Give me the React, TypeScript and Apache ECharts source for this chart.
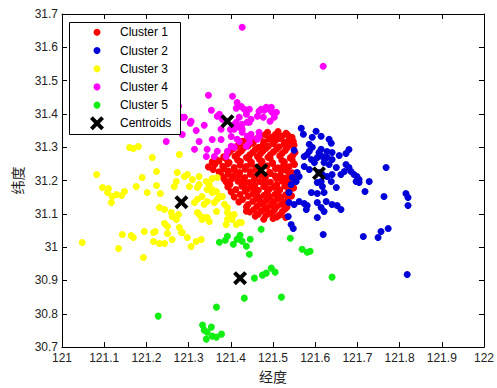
import React, { useEffect, useRef } from "react";
import * as echarts from "echarts";

type Pt = [number, number];

const seriesNames = ["Cluster 1", "Cluster 2", "Cluster 3", "Cluster 4", "Cluster 5"];
const seriesColors = ["#ff0000", "#0000d8", "#ffff00", "#ff00ff", "#11ee11"];
const centroidName = "Centroids";

const cluster1: Pt[] = [
  [121.487, 31.345], [121.512, 31.347], [121.531, 31.342],
  [121.47, 31.333], [121.498, 31.331], [121.522, 31.334], [121.545, 31.33],
  [121.428, 31.318], [121.452, 31.32], [121.478, 31.316], [121.505, 31.319], [121.527, 31.315], [121.548, 31.318],
  [121.413, 31.302], [121.441, 31.304], [121.466, 31.3], [121.489, 31.303], [121.514, 31.301], [121.538, 31.305],
  [121.398, 31.287], [121.425, 31.289], [121.452, 31.285], [121.476, 31.288], [121.501, 31.286], [121.529, 31.29], [121.552, 31.284],
  [121.383, 31.271], [121.41, 31.273], [121.437, 31.269], [121.463, 31.272], [121.488, 31.27], [121.516, 31.274], [121.541, 31.268],
  [121.356, 31.256], [121.372, 31.259], [121.396, 31.254], [121.423, 31.257], [121.449, 31.255], [121.474, 31.258], [121.499, 31.253], [121.527, 31.256], [121.549, 31.252],
  [121.347, 31.241], [121.381, 31.243], [121.408, 31.239], [121.436, 31.242], [121.459, 31.24], [121.486, 31.244], [121.512, 31.238], [121.538, 31.241],
  [121.372, 31.226], [121.395, 31.228], [121.421, 31.224], [121.447, 31.227], [121.492, 31.225], [121.519, 31.229], [121.546, 31.223],
  [121.381, 31.211], [121.407, 31.213], [121.433, 31.209], [121.458, 31.212], [121.482, 31.21], [121.505, 31.214], [121.531, 31.208], [121.553, 31.211],
  [121.389, 31.196], [121.417, 31.198], [121.444, 31.194], [121.469, 31.197], [121.494, 31.195], [121.521, 31.199], [121.542, 31.193],
  [121.393, 31.181], [121.426, 31.183], [121.452, 31.179], [121.478, 31.182], [121.503, 31.18], [121.528, 31.184], [121.549, 31.178],
  [121.401, 31.166], [121.434, 31.168], [121.461, 31.164], [121.487, 31.167], [121.512, 31.165], [121.537, 31.169],
  [121.408, 31.151], [121.441, 31.153], [121.468, 31.149], [121.493, 31.152], [121.519, 31.15], [121.544, 31.154],
  [121.419, 31.136], [121.452, 31.138], [121.477, 31.134], [121.501, 31.137], [121.526, 31.135],
  [121.437, 31.121], [121.462, 31.123], [121.486, 31.119], [121.509, 31.122], [121.533, 31.12],
  [121.437, 31.108], [121.445, 31.106], [121.471, 31.108], [121.497, 31.104], [121.522, 31.107],
  [121.458, 31.093], [121.483, 31.095], [121.509, 31.091], [121.53, 31.089],
  [121.478, 31.084], [121.5, 31.086],
  [121.482, 31.338], [121.506, 31.339], [121.535, 31.337],
  [121.44, 31.325], [121.463, 31.327], [121.49, 31.324], [121.515, 31.326], [121.538, 31.323],
  [121.42, 31.31], [121.453, 31.312], [121.477, 31.308], [121.501, 31.311], [121.526, 31.309], [121.55, 31.307],
  [121.405, 31.295], [121.43, 31.297], [121.458, 31.293], [121.483, 31.296], [121.508, 31.294], [121.533, 31.298],
  [121.392, 31.279], [121.418, 31.281], [121.445, 31.277], [121.47, 31.28], [121.494, 31.278], [121.522, 31.282], [121.547, 31.276],
  [121.365, 31.264], [121.388, 31.266], [121.416, 31.262], [121.443, 31.265], [121.468, 31.263], [121.493, 31.267], [121.521, 31.261], [121.545, 31.264],
  [121.362, 31.248], [121.393, 31.25], [121.422, 31.246], [121.447, 31.249], [121.472, 31.247], [121.499, 31.251], [121.525, 31.245], [121.551, 31.248],
  [121.358, 31.233], [121.384, 31.235], [121.409, 31.231], [121.434, 31.234], [121.46, 31.232], [121.506, 31.236], [121.532, 31.23],
  [121.376, 31.218], [121.394, 31.22], [121.42, 31.216], [121.446, 31.219], [121.47, 31.217], [121.494, 31.221], [121.518, 31.215], [121.541, 31.218],
  [121.385, 31.203], [121.402, 31.205], [121.43, 31.201], [121.456, 31.204], [121.481, 31.202], [121.508, 31.206], [121.533, 31.2], [121.552, 31.203],
  [121.398, 31.188], [121.431, 31.19], [121.457, 31.186], [121.482, 31.189], [121.509, 31.187], [121.535, 31.191],
  [121.412, 31.173], [121.44, 31.175], [121.465, 31.171], [121.491, 31.174], [121.516, 31.172], [121.543, 31.176],
  [121.422, 31.158], [121.452, 31.16], [121.479, 31.156], [121.505, 31.159], [121.53, 31.157],
  [121.428, 31.143], [121.461, 31.145], [121.485, 31.141], [121.51, 31.144], [121.535, 31.142],
  [121.441, 31.128], [121.47, 31.13], [121.495, 31.126], [121.52, 31.129],
  [121.455, 31.113], [121.48, 31.115], [121.503, 31.111], [121.528, 31.114],
  [121.465, 31.099], [121.49, 31.101], [121.516, 31.097],
];

const cluster2: Pt[] = [
  [121.567, 31.357], [121.572, 31.339], [121.602, 31.348], [121.593, 31.33], [121.614, 31.333],
  [121.633, 31.324], [121.638, 31.312], [121.586, 31.309], [121.593, 31.3], [121.55, 31.291],
  [121.574, 31.272], [121.581, 31.278], [121.591, 31.263], [121.609, 31.284], [121.617, 31.272],
  [121.628, 31.287], [121.64, 31.284], [121.657, 31.275], [121.673, 31.281], [121.68, 31.293],
  [121.574, 31.242], [121.586, 31.233], [121.598, 31.254], [121.621, 31.254], [121.633, 31.248],
  [121.65, 31.239], [121.673, 31.248], [121.68, 31.239], [121.685, 31.227], [121.692, 31.218],
  [121.697, 31.197], [121.704, 31.203], [121.728, 31.197], [121.768, 31.239], [121.557, 31.224],
  [121.546, 31.209], [121.543, 31.188], [121.555, 31.197], [121.562, 31.212], [121.617, 31.218],
  [121.628, 31.212], [121.64, 31.218], [121.638, 31.197], [121.65, 31.179], [121.617, 31.182],
  [121.605, 31.194], [121.591, 31.164], [121.605, 31.161], [121.621, 31.164], [121.538, 31.164],
  [121.718, 31.167], [121.763, 31.152], [121.815, 31.161], [121.82, 31.149], [121.82, 31.125],
  [121.605, 31.269], [121.628, 31.269], [121.64, 31.263], [121.586, 31.288], [121.614, 31.294],
  [121.609, 31.224], [121.661, 31.218], [121.669, 31.227], [121.699, 31.212], [121.704, 31.194],
  [121.614, 31.197], [121.538, 31.134], [121.55, 31.128], [121.562, 31.137], [121.574, 31.131],
  [121.581, 31.125], [121.605, 31.134], [121.614, 31.119], [121.621, 31.107], [121.626, 31.137],
  [121.64, 31.128], [121.652, 31.125], [121.661, 31.113], [121.536, 31.092], [121.605, 31.089],
  [121.543, 31.068], [121.548, 31.056], [121.619, 31.038], [121.714, 31.032], [121.749, 31.029],
  [121.756, 31.047], [121.773, 31.056], [121.818, 30.918], [121.579, 31.113],
];

const cluster3: Pt[] = [
  [121.048, 31.014], [121.082, 31.218], [121.096, 31.179], [121.11, 31.176], [121.108, 31.164],
  [121.119, 31.152], [121.129, 31.158], [121.141, 31.155], [121.148, 31.167], [121.117, 31.134],
  [121.16, 31.299], [121.169, 31.296], [121.181, 31.302], [121.214, 31.269], [121.278, 31.278],
  [121.176, 31.182], [121.19, 31.209], [121.224, 31.227], [121.224, 31.185], [121.202, 31.164],
  [121.233, 31.161], [121.271, 31.197], [121.266, 31.182], [121.273, 31.224], [121.29, 31.212],
  [121.231, 31.119], [121.243, 31.113], [121.261, 31.092], [121.271, 31.083], [121.276, 31.098],
  [121.243, 31.071], [121.25, 31.062], [121.278, 31.059], [121.143, 31.038], [121.164, 31.035],
  [121.169, 31.029], [121.195, 31.047], [121.217, 31.044], [121.221, 31.047], [121.217, 31.017],
  [121.231, 31.011], [121.243, 31.011], [121.25, 31.041], [121.261, 31.023], [121.285, 31.044],
  [121.297, 31.029], [121.134, 30.996], [121.193, 30.969], [121.306, 31.002], [121.318, 31.017],
  [121.33, 31.023], [121.325, 31.098], [121.332, 31.083], [121.344, 31.089], [121.314, 31.134],
  [121.321, 31.144], [121.332, 31.152], [121.344, 31.137], [121.361, 31.134], [121.373, 31.152],
  [121.366, 31.167], [121.392, 31.119], [121.396, 31.098], [121.403, 31.083], [121.42, 31.074],
  [121.297, 31.218], [121.309, 31.203], [121.325, 31.212], [121.342, 31.197], [121.356, 31.206],
  [121.368, 31.209], [121.325, 31.188], [121.344, 31.173], [121.356, 31.173], [121.302, 31.182],
  [121.321, 31.179], [121.349, 31.188], [121.356, 31.164], [121.337, 31.129], [121.368, 31.144],
  [121.38, 31.152], [121.385, 31.129], [121.366, 31.107], [121.321, 31.104], [121.337, 31.089],
  [121.349, 31.077], [121.392, 31.104], [121.408, 31.098], [121.392, 31.083], [121.413, 31.068],
  [121.425, 31.074], [121.389, 31.068], [121.259, 31.104], [121.283, 31.044],
];

const cluster4: Pt[] = [
  [121.427, 31.66], [121.619, 31.543], [121.347, 31.456], [121.404, 31.453], [121.276, 31.423],
  [121.354, 31.411], [121.285, 31.39], [121.304, 31.372], [121.337, 31.366], [121.373, 31.399],
  [121.38, 31.384], [121.415, 31.434], [121.425, 31.422], [121.432, 31.414], [121.437, 31.399],
  [121.42, 31.39], [121.439, 31.375], [121.247, 31.317], [121.285, 31.338], [121.325, 31.317],
  [121.356, 31.323], [121.377, 31.323], [121.401, 31.332], [121.344, 31.294], [121.368, 31.288],
  [121.401, 31.303], [121.42, 31.317], [121.437, 31.303], [121.318, 31.35], [121.399, 31.353],
  [121.408, 31.368], [121.342, 31.272], [121.361, 31.272], [121.389, 31.272], [121.448, 31.384],
  [121.467, 31.408], [121.479, 31.411], [121.491, 31.414], [121.498, 31.405], [121.503, 31.39],
  [121.493, 31.378], [121.477, 31.39], [121.463, 31.393], [121.368, 31.393], [121.413, 31.375],
  [121.427, 31.369], [121.444, 31.375], [121.306, 31.378], [121.29, 31.39], [121.444, 31.414],
  [121.472, 31.414], [121.484, 31.42], [121.496, 31.42], [121.508, 31.405], [121.427, 31.354],
  [121.448, 31.339], [121.439, 31.333], [121.467, 31.333], [121.444, 31.315], [121.314, 31.294],
  [121.408, 31.354], [121.42, 31.36], [121.427, 31.345], [121.415, 31.324], [121.408, 31.3],
  [121.392, 31.288], [121.467, 31.345], [121.463, 31.324], [121.448, 31.33], [121.377, 31.354],
  [121.413, 31.417],
];

const cluster5: Pt[] = [
  [121.228, 30.793], [121.333, 30.766], [121.354, 30.76], [121.344, 30.745], [121.342, 30.724],
  [121.356, 30.733], [121.366, 30.73], [121.378, 30.739], [121.337, 30.751], [121.366, 30.82],
  [121.432, 30.847], [121.52, 30.85], [121.373, 31.015], [121.392, 31.033], [121.406, 31.009],
  [121.422, 31.036], [121.427, 31.018], [121.437, 31.003], [121.446, 31.024], [121.444, 30.979],
  [121.456, 30.907], [121.475, 30.916], [121.484, 30.922], [121.496, 30.937], [121.505, 30.925],
  [121.472, 31.054], [121.541, 31.027], [121.569, 30.994], [121.581, 30.985], [121.588, 30.988],
  [121.64, 30.91], [121.415, 31.024], [121.387, 31.021],
];

const centroids: Pt[] = [
  [121.472, 31.231], [121.609, 31.222], [121.283, 31.135], [121.392, 31.378], [121.422, 30.907],
];

const xMin = 121, xMax = 122, yMin = 30.7, yMax = 31.7, tickStep = 0.1;

const xName = "经度";
const yName = "纬度";

const clusters = [cluster1, cluster2, cluster3, cluster4, cluster5];

const X_PATH = "path://M0,2L2,0L5,3L8,0L10,2L7,5L10,8L8,10L5,7L2,10L0,8L3,5Z";
const X_POINTS: Pt[] = [[0, 2], [2, 0], [5, 3], [8, 0], [10, 2], [7, 5], [10, 8], [8, 10], [5, 7], [2, 10], [0, 8], [3, 5]];

export default function App() {
  const ref = useRef<HTMLDivElement>(null);
  useEffect(() => {
    const chart = echarts.init(ref.current!, null, { renderer: "svg" });
    const font = "'Liberation Sans', Arial, sans-serif";
    const axisLine = { show: true, onZero: false, lineStyle: { color: "#000", width: 1 } };
    const axisTick = { show: true, inside: true, length: 5, lineStyle: { color: "#000", width: 1 } };
    const labelStyle = { color: "#222", fontSize: 12, fontFamily: font };

    // legend drawn as graphic (box at 69..180 x 22..134)
    const lgLeft = 69.5, lgTop = 22.5, lgW = 111, lgH = 112;
    const iconX = 97, textX = 120, row0 = 32.3, rowStep = 18.2;
    const legendEls: any[] = [
      { type: "rect", shape: { x: lgLeft, y: lgTop, width: lgW, height: lgH }, style: { fill: "#fff", stroke: "#000", lineWidth: 1 }, z: 100 },
    ];
    seriesNames.forEach((n, i) => {
      const cy = row0 + i * rowStep;
      legendEls.push({ type: "circle", shape: { cx: iconX, cy, r: 3.5 }, style: { fill: seriesColors[i] }, z: 101 });
      legendEls.push({ type: "text", x: textX, y: cy, style: { text: n, fill: "#000", font: `12px ${font}`, verticalAlign: "middle", align: "left" }, z: 101 });
    });
    const cyC = row0 + 5 * rowStep;
    legendEls.push({
      type: "polygon",
      shape: { points: X_POINTS.map(([a, b]) => [iconX - 7 + a * 1.4, cyC - 7 + b * 1.4]) },
      style: { fill: "#000" }, z: 101,
    });
    legendEls.push({ type: "text", x: textX, y: cyC, style: { text: centroidName, fill: "#000", font: `12px ${font}`, verticalAlign: "middle", align: "left" }, z: 101 });

    chart.setOption({
      animation: false,
      backgroundColor: "#fff",
      grid: { left: 62, right: 12, top: 14, bottom: 40, containLabel: false },
      xAxis: [
        {
          type: "value", min: xMin, max: xMax, interval: tickStep, position: "bottom",
          axisLine, axisTick, splitLine: { show: false },
          axisLabel: { ...labelStyle, margin: 5 },
          name: xName, nameLocation: "middle", nameGap: 20,
          nameTextStyle: { fontSize: 14, color: "#222", fontFamily: "'Noto Sans CJK SC', sans-serif" },
        },
        {
          type: "value", min: xMin, max: xMax, interval: tickStep, position: "top",
          axisLine, axisTick, splitLine: { show: false }, axisLabel: { show: false },
        },
      ],
      yAxis: [
        {
          type: "value", min: yMin, max: yMax, interval: tickStep, position: "left",
          axisLine, axisTick, splitLine: { show: false },
          axisLabel: { ...labelStyle, margin: 4 },
          name: yName, nameLocation: "middle", nameGap: 34, nameRotate: 90,
          nameTextStyle: { fontSize: 14, color: "#222", fontFamily: "'Noto Sans CJK SC', sans-serif" },
        },
        {
          type: "value", min: yMin, max: yMax, interval: tickStep, position: "right",
          axisLine, axisTick, splitLine: { show: false }, axisLabel: { show: false },
        },
      ],
      graphic: { elements: legendEls },
      series: [
        ...clusters.map((d, i) => ({
          name: seriesNames[i], type: "scatter", data: d, symbol: "circle", symbolSize: 7,
          itemStyle: { color: seriesColors[i], opacity: 1 }, emphasis: { disabled: true },
          xAxisIndex: 0, yAxisIndex: 0,
        })),
        {
          name: centroidName, type: "scatter", data: centroids, symbol: X_PATH, symbolSize: 14,
          itemStyle: { color: "#000", opacity: 1 }, emphasis: { disabled: true }, xAxisIndex: 0, yAxisIndex: 0,
        },
      ],
    });
    return () => chart.dispose();
  }, []);
  return (
    <div
      ref={ref}
      style={{ position: "absolute", left: 0, top: 0, width: 497, height: 388, background: "#fff" }}
    />
  );
}
